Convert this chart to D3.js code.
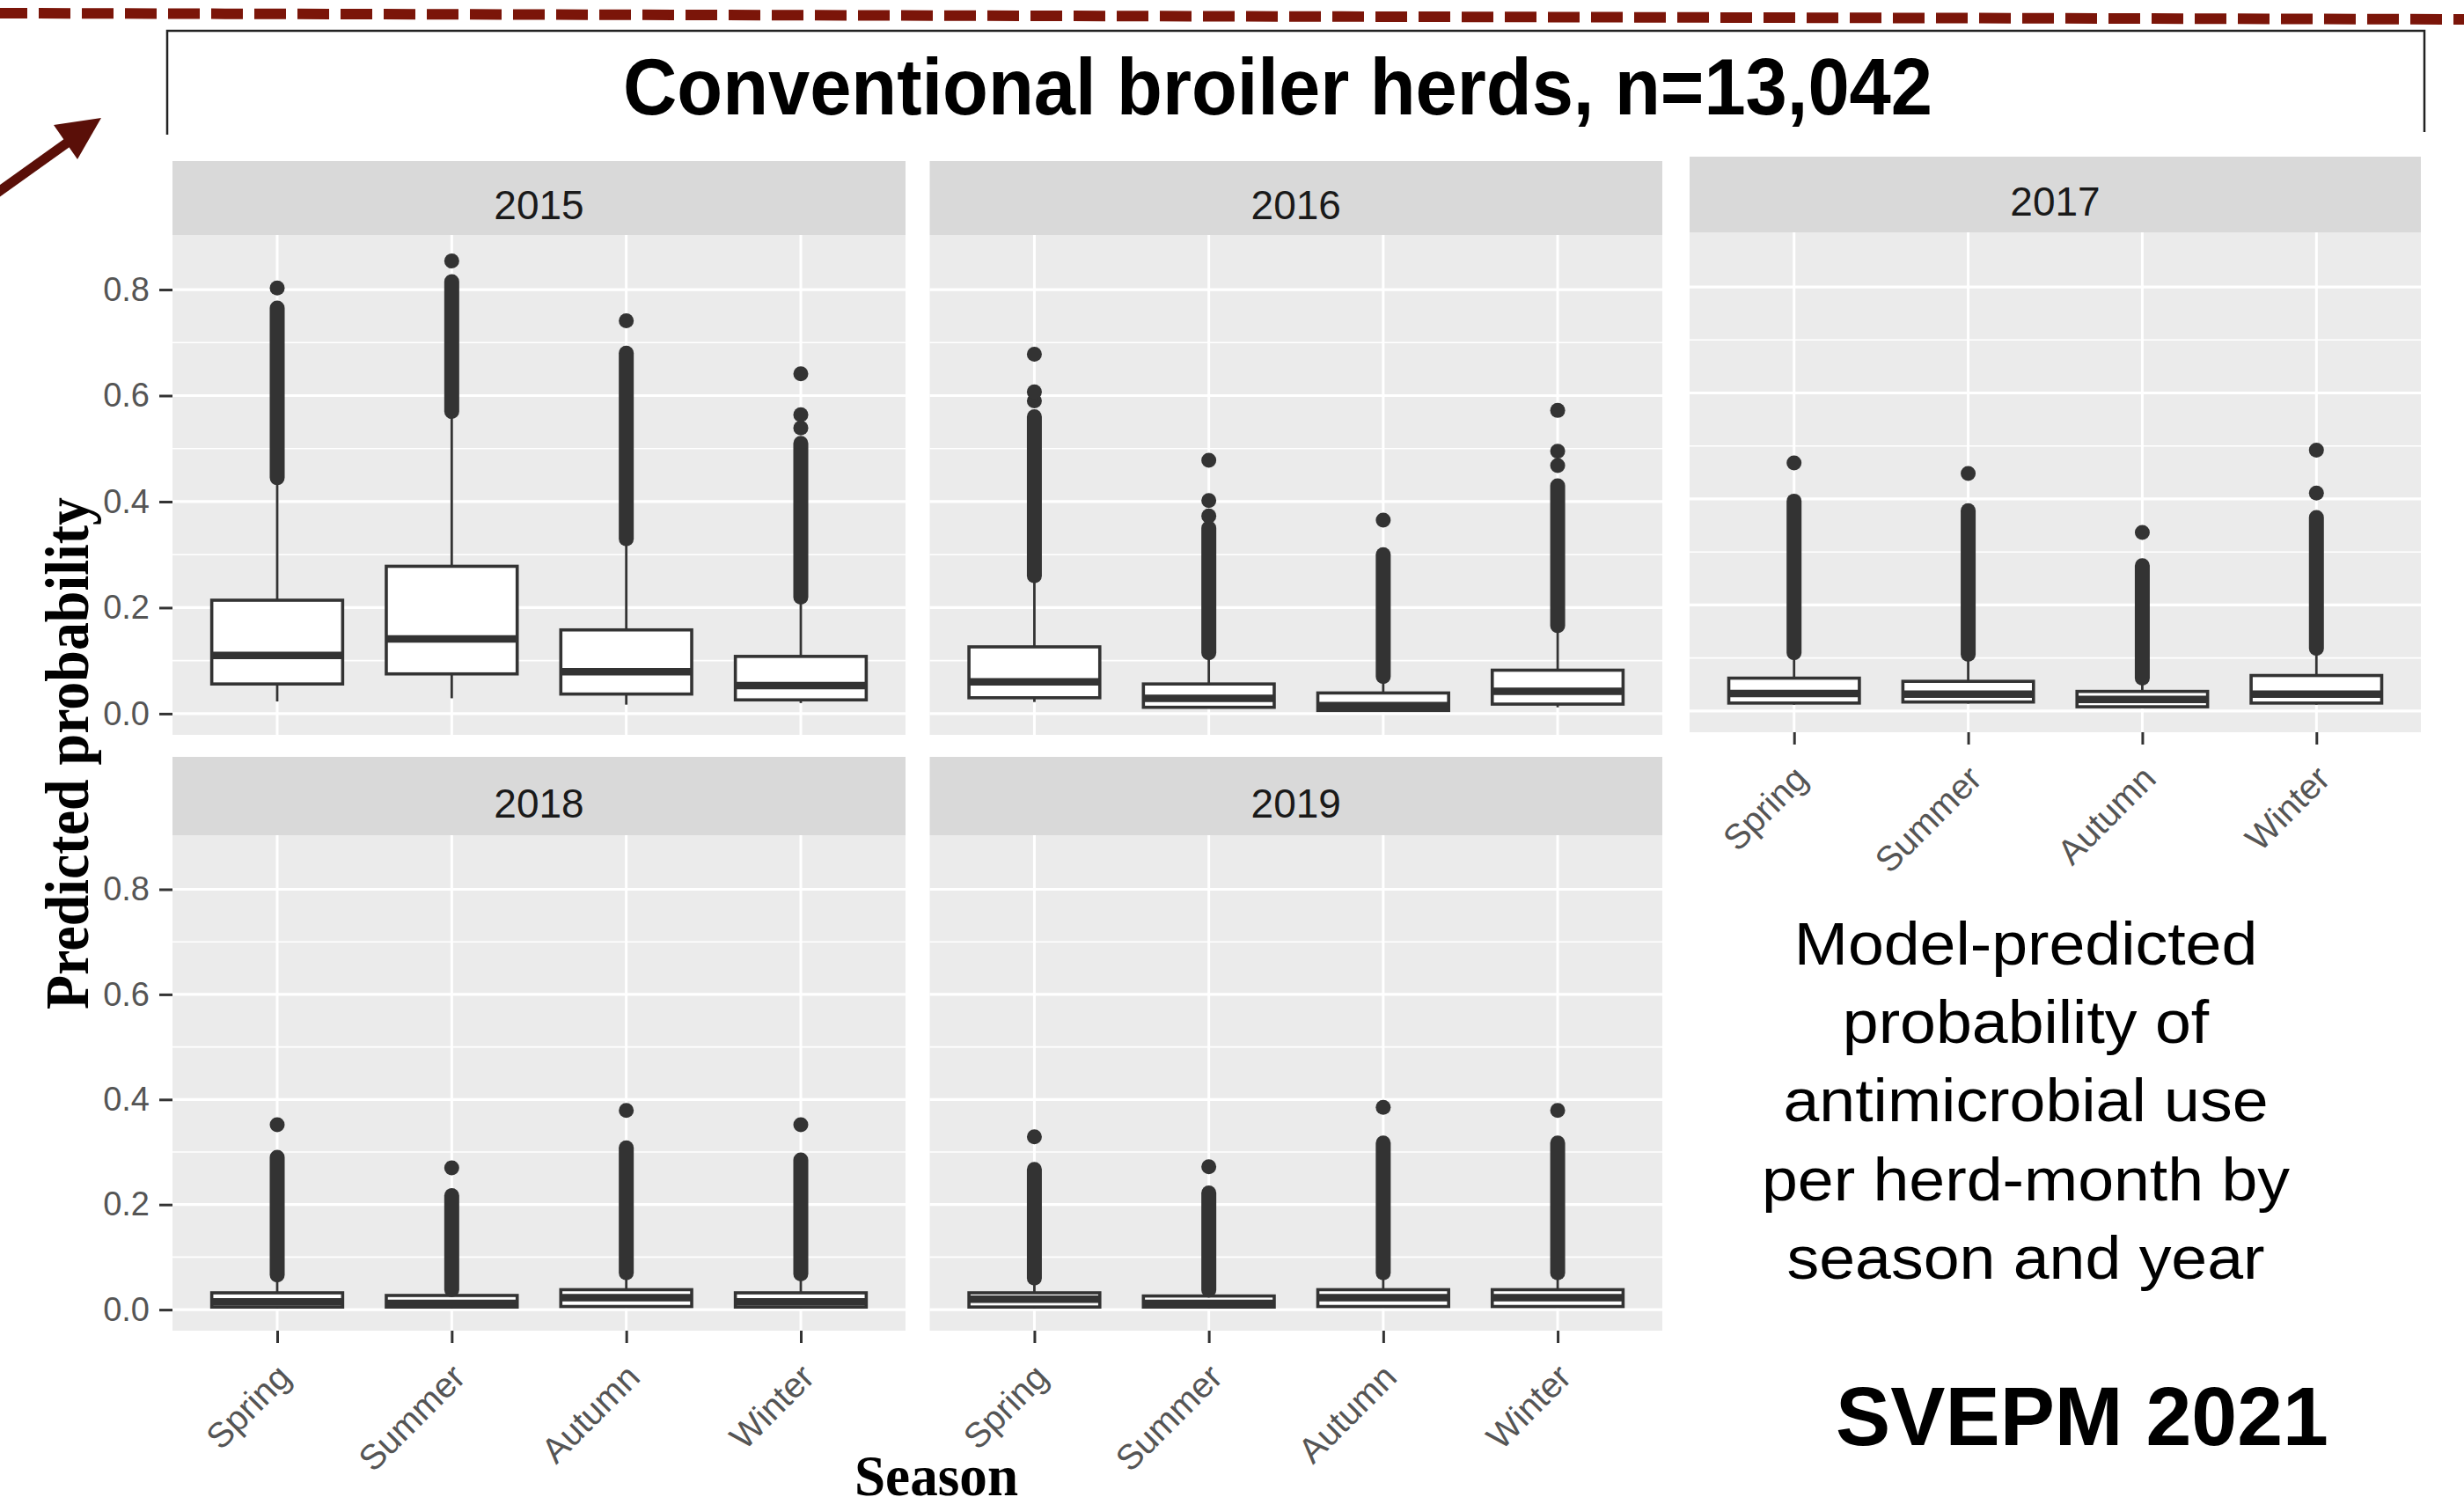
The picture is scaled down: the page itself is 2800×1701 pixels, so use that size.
<!DOCTYPE html>
<html><head><meta charset="utf-8">
<script src="https://cdn.jsdelivr.net/npm/d3@7"></script>
<style>body{margin:0;background:#fff;} svg{display:block}</style>
</head><body>
<svg id="c" width="2800" height="1701"></svg>
<script>
// ---------------- DATA ----------------
const years = [2015, 2016, 2017, 2018, 2019];
const seasons = ["Spring", "Summer", "Autumn", "Winter"];
const yTicks = [0, 0.2, 0.4, 0.6, 0.8];
const yTickLabels = ["0.0", "0.2", "0.4", "0.6", "0.8"];
const yMinorTicks = [0.1, 0.3, 0.5, 0.7];

// rows = years, columns = seasons
const whiskerLow = [
  [0.023, 0.029, 0.017, 0.020],
  [0.022, 0.010, 0.004, 0.012],
  [0.012, 0.014, 0.006, 0.012],
  [0.003, 0.003, 0.004, 0.003],
  [0.003, 0.003, 0.004, 0.004]
];
const q1 = [
  [0.056, 0.075, 0.037, 0.026],
  [0.030, 0.012, 0.006, 0.018],
  [0.015, 0.017, 0.008, 0.015],
  [0.005, 0.005, 0.006, 0.005],
  [0.005, 0.005, 0.006, 0.006]
];
const median = [
  [0.110, 0.141, 0.079, 0.053],
  [0.060, 0.029, 0.015, 0.042],
  [0.033, 0.032, 0.022, 0.032],
  [0.015, 0.012, 0.023, 0.015],
  [0.020, 0.012, 0.023, 0.023]
];
const q3 = [
  [0.214, 0.278, 0.158, 0.108],
  [0.126, 0.056, 0.039, 0.082],
  [0.062, 0.056, 0.037, 0.067],
  [0.032, 0.027, 0.038, 0.032],
  [0.032, 0.026, 0.038, 0.038]
];
const whiskerHigh = [
  [0.440, 0.565, 0.325, 0.214],
  [0.255, 0.112, 0.067, 0.163],
  [0.107, 0.104, 0.059, 0.115],
  [0.063, 0.036, 0.068, 0.066],
  [0.058, 0.035, 0.068, 0.068]
];
// dense stacks of outliers (from – to)
const outlierRunLow = [
  [0.445, 0.570, 0.330, 0.220],
  [0.260, 0.115, 0.070, 0.166],
  [0.110, 0.107, 0.062, 0.118],
  [0.066, 0.038, 0.070, 0.068],
  [0.060, 0.037, 0.070, 0.070]
];
const outlierRunHigh = [
  [0.765, 0.815, 0.680, 0.510],
  [0.560, 0.350, 0.300, 0.430],
  [0.396, 0.378, 0.274, 0.365],
  [0.290, 0.217, 0.308, 0.285],
  [0.267, 0.222, 0.317, 0.317]
];
// isolated outliers
const outlierPoints = [
  [[0.803], [0.854], [0.741], [0.539, 0.564, 0.641]],
  [[0.590, 0.607, 0.678], [0.373, 0.402, 0.478], [0.365], [0.468, 0.495, 0.572]],
  [[0.468], [0.448], [0.337], [0.411, 0.492]],
  [[0.352], [0.270], [0.379], [0.352]],
  [[0.329], [0.272], [0.385], [0.379]]
];

const titleText = "Conventional broiler herds, n=13,042";
const yAxisTitle = "Predicted probability";
const xAxisTitle = "Season";
const noteLines = ["Model-predicted", "probability of", "antimicrobial use", "per herd-month by", "season and year"];
const footerText = "SVEPM 2021";

// ---------------- LAYOUT ----------------
const layout = [
  {x0: 196, x1: 1029, stripTop: 183, top: 267, bottom: 835, yAxis: true, xAxis: false},
  {x0: 1056.5, x1: 1889, stripTop: 183, top: 267, bottom: 835, yAxis: false, xAxis: false},
  {x0: 1920, x1: 2751, stripTop: 178, top: 264, bottom: 832, yAxis: false, xAxis: true},
  {x0: 196, x1: 1029, stripTop: 860, top: 949, bottom: 1512, yAxis: true, xAxis: true},
  {x0: 1056.5, x1: 1889, stripTop: 860, top: 949, bottom: 1512, yAxis: false, xAxis: true}
];
const yDomain = [-0.04, 0.903];
const SANS = "'Liberation Sans', Arial, Helvetica, sans-serif";
const SERIF = "'Liberation Serif', 'Times New Roman', serif";
const dark = "#333333";

const svg = d3.select("#c");

// dashed banner line
svg.append("line").attr("x1", 0).attr("y1", 15).attr("x2", 2800).attr("y2", 22)
  .attr("stroke", "#7b1509").attr("stroke-width", 12)
  .attr("stroke-dasharray", "36 13").attr("stroke-dashoffset", 5);

// arrow
svg.append("line").attr("x1", -10).attr("y1", 224).attr("x2", 92).attr("y2", 151)
  .attr("stroke", "#5a0f08").attr("stroke-width", 11);
svg.append("polygon").attr("points", "115,134 61,142 88,181").attr("fill", "#5a0f08");

// title box (top and sides)
svg.append("path").attr("d", "M190,153 L190,35 L2755,35 L2755,150")
  .attr("fill", "none").attr("stroke", "#222").attr("stroke-width", 2.5);
svg.append("text").attr("x", 1452).attr("y", 130).attr("text-anchor", "middle")
  .attr("font-family", SANS).attr("font-weight", "bold").attr("font-size", 90)
  .attr("textLength", 1488).attr("lengthAdjust", "spacingAndGlyphs")
  .attr("fill", "#000").text(titleText);

// ---------------- PANELS ----------------
years.forEach((yr, i) => {
  const L = layout[i];
  const g = svg.append("g");
  const x = d3.scalePoint().domain(seasons).range([L.x0, L.x1]).padding(0.6);
  const y = d3.scaleLinear().domain(yDomain).range([L.bottom, L.top]);
  const bw = x.step() * 0.75;

  // strip
  g.append("rect").attr("x", L.x0).attr("y", L.stripTop).attr("width", L.x1 - L.x0)
    .attr("height", L.top - L.stripTop).attr("fill", "#d9d9d9");
  g.append("text").attr("x", (L.x0 + L.x1) / 2).attr("y", L.stripTop + 0.78 * (L.top - L.stripTop))
    .attr("text-anchor", "middle").attr("font-family", SANS).attr("font-size", 46)
    .attr("fill", "#1a1a1a").text(yr);

  // panel background
  g.append("rect").attr("x", L.x0).attr("y", L.top).attr("width", L.x1 - L.x0)
    .attr("height", L.bottom - L.top).attr("fill", "#ebebeb");
  g.selectAll(".minor").data(yMinorTicks).enter().append("line")
    .attr("x1", L.x0).attr("x2", L.x1).attr("y1", d => y(d)).attr("y2", d => y(d))
    .attr("stroke", "#fff").attr("stroke-width", 1.6);
  g.selectAll(".major").data(yTicks).enter().append("line")
    .attr("x1", L.x0).attr("x2", L.x1).attr("y1", d => y(d)).attr("y2", d => y(d))
    .attr("stroke", "#fff").attr("stroke-width", 3.2);
  g.selectAll(".vgrid").data(seasons).enter().append("line")
    .attr("x1", d => x(d)).attr("x2", d => x(d)).attr("y1", L.top).attr("y2", L.bottom)
    .attr("stroke", "#fff").attr("stroke-width", 3);

  // boxes
  seasons.forEach((s, j) => {
    const cx = x(s);
    g.append("line").attr("x1", cx).attr("x2", cx).attr("y1", y(q3[i][j])).attr("y2", y(whiskerHigh[i][j]))
      .attr("stroke", dark).attr("stroke-width", 2.8);
    g.append("line").attr("x1", cx).attr("x2", cx).attr("y1", y(q1[i][j])).attr("y2", y(whiskerLow[i][j]))
      .attr("stroke", dark).attr("stroke-width", 2.8);
    g.append("rect").attr("x", cx - bw / 2).attr("y", y(q3[i][j])).attr("width", bw)
      .attr("height", y(q1[i][j]) - y(q3[i][j])).attr("fill", "#fff")
      .attr("stroke", dark).attr("stroke-width", 3.6);
    g.append("line").attr("x1", cx - bw / 2).attr("x2", cx + bw / 2)
      .attr("y1", y(median[i][j])).attr("y2", y(median[i][j]))
      .attr("stroke", dark).attr("stroke-width", 8.5);
    g.append("line").attr("x1", cx).attr("x2", cx)
      .attr("y1", y(outlierRunLow[i][j])).attr("y2", y(outlierRunHigh[i][j]))
      .attr("stroke", dark).attr("stroke-width", 17).attr("stroke-linecap", "round");
    g.selectAll(null).data(outlierPoints[i][j]).enter().append("circle")
      .attr("cx", cx).attr("cy", d => y(d)).attr("r", 8.5).attr("fill", dark);
  });

  // axes
  if (L.yAxis) {
    const ay = g.append("g").attr("transform", `translate(${L.x0},0)`)
      .call(d3.axisLeft(y).tickValues(yTicks).tickFormat((d, k) => yTickLabels[k]).tickSize(15).tickPadding(11));
    ay.select(".domain").remove();
    ay.selectAll("line").attr("stroke", dark).attr("stroke-width", 3);
    ay.selectAll("text").attr("font-family", SANS).attr("font-size", 38).attr("fill", "#555");
  }
  if (L.xAxis) {
    const ax = g.append("g").attr("transform", `translate(0,${L.bottom})`)
      .call(d3.axisBottom(x).tickSize(14).tickPadding(0));
    ax.select(".domain").remove();
    ax.selectAll("line").attr("stroke", dark).attr("stroke-width", 3);
    ax.selectAll("text").attr("font-family", SANS).attr("font-size", 40).attr("fill", "#555")
      .attr("x", 0).attr("y", 0).attr("dy", "0.75em").attr("text-anchor", "end")
      .attr("transform", "translate(-4,34) rotate(-45)");
  }
});

// axis titles
svg.append("text").attr("transform", "translate(100,856) rotate(-90)")
  .attr("text-anchor", "middle").attr("font-family", SERIF).attr("font-weight", "bold")
  .attr("font-size", 70).attr("textLength", 582).attr("lengthAdjust", "spacingAndGlyphs")
  .attr("fill", "#000").text(yAxisTitle);
svg.append("text").attr("x", 1064).attr("y", 1699).attr("text-anchor", "middle")
  .attr("font-family", SERIF).attr("font-weight", "bold").attr("font-size", 66)
  .attr("textLength", 186).attr("lengthAdjust", "spacingAndGlyphs")
  .attr("fill", "#000").text(xAxisTitle);

// note
const note = svg.append("g").attr("transform", "translate(2302,0) scale(1.08,1)");
note.selectAll("text").data(noteLines).enter().append("text")
  .attr("x", 0).attr("y", (d, k) => 1096 + k * 89.2).attr("text-anchor", "middle")
  .attr("font-family", SANS).attr("font-size", 68).attr("fill", "#000").text(d => d);

svg.append("text").attr("x", 2366).attr("y", 1642).attr("text-anchor", "middle")
  .attr("font-family", SANS).attr("font-weight", "bold").attr("font-size", 95)
  .attr("textLength", 560).attr("lengthAdjust", "spacingAndGlyphs")
  .attr("fill", "#000").text(footerText);
</script>
</body></html>
